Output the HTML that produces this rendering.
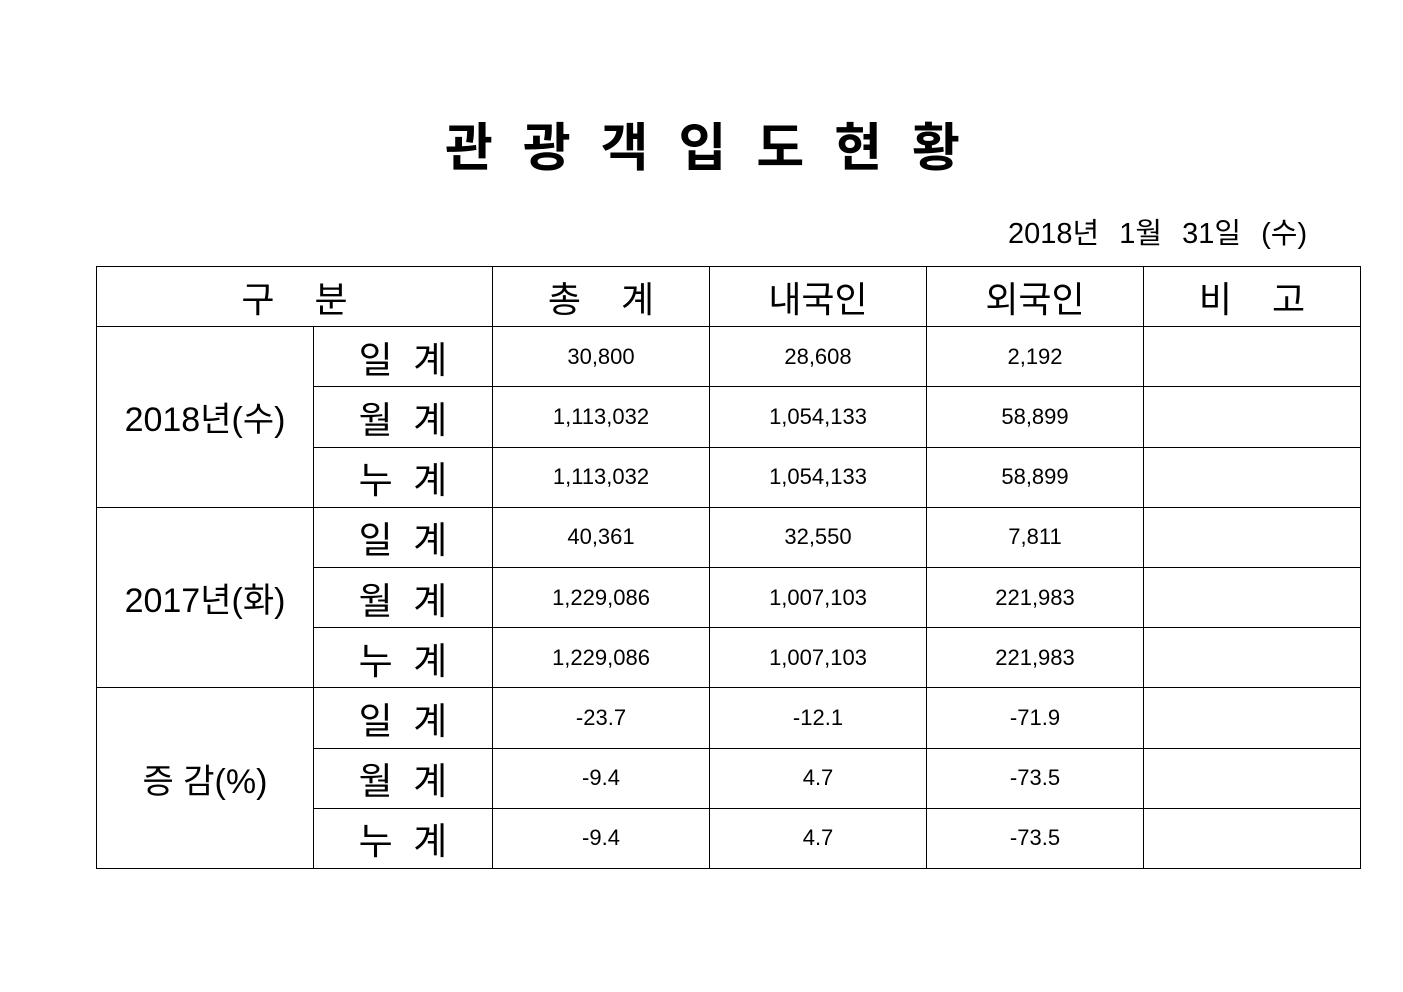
<!DOCTYPE html>
<html><head><meta charset="utf-8"><style>
html,body{margin:0;padding:0;background:#fff;width:1403px;height:992px;overflow:hidden;font-family:"Liberation Sans","Noto Sans CJK KR",sans-serif;color:#000}
.t{position:absolute;white-space:pre}
table{position:absolute;left:96px;top:266px;border-collapse:collapse;table-layout:fixed}
td{border:1px solid #000;padding:0;text-align:center;vertical-align:middle;height:59.2px;font-size:22px}
.h{font-size:36px}
.s{font-size:37px}
.y{font-size:34px}
</style></head><body>
<div class="t" style="left:445px;top:106px;font-size:52px;font-weight:bold;letter-spacing:30px;font-family:'Noto Sans CJK KR',sans-serif">관광객입도현황</div>
<div class="t" style="left:1008px;top:210px;font-size:29px;word-spacing:12px">2018년 1월 31일 (수)</div>
<table>
<colgroup><col style="width:217px"><col style="width:179px"><col style="width:217px"><col style="width:217px"><col style="width:217px"><col style="width:217px"></colgroup>
<tr><td colspan="2" class="h">구&nbsp;&nbsp;&nbsp;&nbsp;분</td><td class="h">총&nbsp;&nbsp;&nbsp;&nbsp;계</td><td class="h">내국인</td><td class="h">외국인</td><td class="h">비&nbsp;&nbsp;&nbsp;&nbsp;고</td></tr>
<tr><td rowspan="3" class="y">2018년(수)</td><td class="s">일&nbsp;&nbsp;계</td><td>30,800</td><td>28,608</td><td>2,192</td><td></td></tr>
<tr><td class="s">월&nbsp;&nbsp;계</td><td>1,113,032</td><td>1,054,133</td><td>58,899</td><td></td></tr>
<tr><td class="s">누&nbsp;&nbsp;계</td><td>1,113,032</td><td>1,054,133</td><td>58,899</td><td></td></tr>
<tr><td rowspan="3" class="y">2017년(화)</td><td class="s">일&nbsp;&nbsp;계</td><td>40,361</td><td>32,550</td><td>7,811</td><td></td></tr>
<tr><td class="s">월&nbsp;&nbsp;계</td><td>1,229,086</td><td>1,007,103</td><td>221,983</td><td></td></tr>
<tr><td class="s">누&nbsp;&nbsp;계</td><td>1,229,086</td><td>1,007,103</td><td>221,983</td><td></td></tr>
<tr><td rowspan="3" class="y">증&nbsp;감(%)</td><td class="s">일&nbsp;&nbsp;계</td><td>-23.7</td><td>-12.1</td><td>-71.9</td><td></td></tr>
<tr><td class="s">월&nbsp;&nbsp;계</td><td>-9.4</td><td>4.7</td><td>-73.5</td><td></td></tr>
<tr><td class="s">누&nbsp;&nbsp;계</td><td>-9.4</td><td>4.7</td><td>-73.5</td><td></td></tr>
</table>
</body></html>
